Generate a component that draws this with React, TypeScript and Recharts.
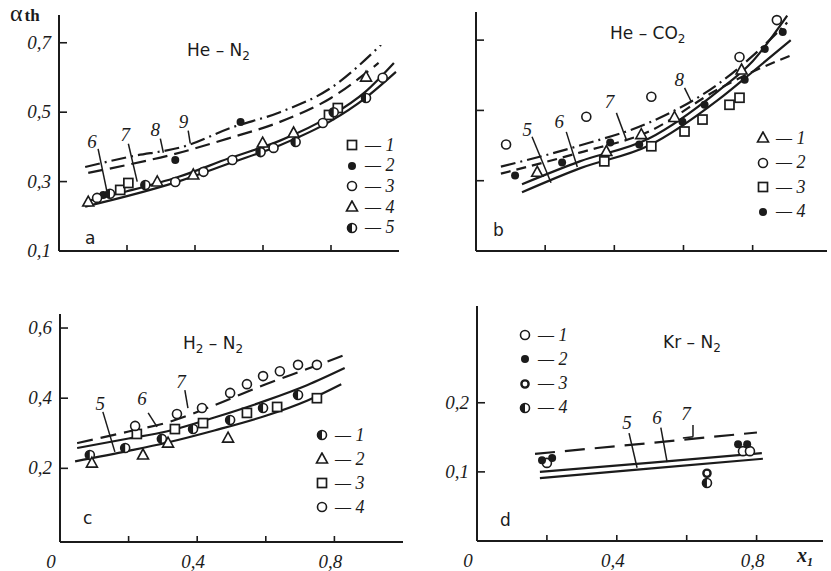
// @ts-nocheck
import React from "react"
import {
    ComposedChart,
    Line,
    Scatter,
    XAxis,
    YAxis,
    ReferenceLine,
    ReferenceDot
} from "recharts"

const INK = "#1b1b1b"
const SERIF = "'Liberation Serif', 'DejaVu Serif', serif"
const SANS = "'DejaVu Sans', 'Liberation Sans', sans-serif"

// shared x axis ticks (x1)
const xTicks = [0, 0.2, 0.4, 0.6, 0.8]
const xLabelled = [0, 0.4, 0.8]

// ---- a: He - N2
const aYTicks = [0.1, 0.3, 0.5, 0.7]
const aCurve6 = [[0.077, 0.228], [0.2, 0.258], [0.35, 0.3], [0.5, 0.352], [0.65, 0.405], [0.8, 0.475], [0.9, 0.54], [0.991, 0.616]]
const aCurve7 = [[0.08, 0.243], [0.2, 0.272], [0.35, 0.313], [0.5, 0.367], [0.65, 0.418], [0.8, 0.49], [0.9, 0.558], [0.985, 0.642]]
const aCurve8 = [[0.086, 0.325], [0.2, 0.348], [0.33, 0.377], [0.5, 0.425], [0.65, 0.472], [0.8, 0.541], [0.94, 0.642]]
const aCurve9 = [[0.077, 0.342], [0.2, 0.37], [0.38, 0.405], [0.5, 0.453], [0.65, 0.5], [0.8, 0.57], [0.947, 0.694]]
const aSquares = [[0.18, 0.276], [0.204, 0.296], [0.794, 0.492], [0.82, 0.512]]
const aFilled = [[0.13, 0.261], [0.342, 0.362], [0.534, 0.472]]
const aOpen = [[0.112, 0.253], [0.342, 0.299], [0.425, 0.328], [0.51, 0.362], [0.631, 0.397], [0.776, 0.469], [0.952, 0.599]]
const aTriangles = [[0.086, 0.241], [0.289, 0.299], [0.395, 0.319], [0.599, 0.411], [0.69, 0.44], [0.903, 0.601]]
const aHalf = [[0.15, 0.265], [0.254, 0.29], [0.593, 0.385], [0.696, 0.414], [0.808, 0.5], [0.903, 0.541]]
const aLeaders = [[[0.115, 0.394], [0.142, 0.267]], [[0.204, 0.409], [0.23, 0.3]], [[0.298, 0.424], [0.307, 0.383]], [[0.38, 0.447], [0.386, 0.41]]]
const aTags = [[0.097, 0.415, "6"], [0.195, 0.435, "7"], [0.283, 0.45, "8"], [0.366, 0.473, "9"]]

// ---- b: He - CO2
const bYTicks = [0.3, 0.5, 0.7]
const bCurve5 = [[0.133, 0.267], [0.3, 0.335], [0.5, 0.4], [0.7, 0.53], [0.8, 0.61], [0.91, 0.7]]
const bCurve6 = [[0.133, 0.29], [0.3, 0.355], [0.5, 0.42], [0.7, 0.555], [0.8, 0.64], [0.9, 0.77]]
const bCurve7 = [[0.072, 0.32], [0.3, 0.38], [0.5, 0.44], [0.7, 0.56], [0.8, 0.61], [0.907, 0.655]]
const bCurve8 = [[0.072, 0.34], [0.3, 0.4], [0.5, 0.465], [0.7, 0.575], [0.8, 0.655], [0.9, 0.75]]
const bTriangles = [[0.177, 0.324], [0.377, 0.383], [0.478, 0.431], [0.574, 0.48], [0.768, 0.615]]
const bOpen = [[0.087, 0.403], [0.319, 0.482], [0.507, 0.539], [0.762, 0.652], [0.87, 0.757]]
const bSquares = [[0.371, 0.355], [0.507, 0.398], [0.603, 0.44], [0.655, 0.474], [0.733, 0.516], [0.762, 0.536]]
const bFilled = [[0.113, 0.315], [0.249, 0.352], [0.388, 0.409], [0.472, 0.403], [0.597, 0.468], [0.661, 0.516], [0.777, 0.587], [0.835, 0.675], [0.887, 0.723]]
const bLeaders = [[[0.162, 0.425], [0.217, 0.294]], [[0.261, 0.439], [0.293, 0.339]], [[0.406, 0.493], [0.435, 0.416]], [[0.603, 0.564], [0.623, 0.524]]]
const bTags = [[0.148, 0.445, "5"], [0.241, 0.468, "6"], [0.386, 0.527, "7"], [0.588, 0.59, "8"]]

// ---- c: H2 - N2
const cYTicks = [0.2, 0.4, 0.6]
const cCurve5 = [[0.044, 0.22], [0.2, 0.25], [0.31, 0.273], [0.45, 0.308], [0.6, 0.35], [0.72, 0.393], [0.82, 0.44]]
const cCurve6 = [[0.05, 0.258], [0.2, 0.285], [0.31, 0.305], [0.45, 0.345], [0.6, 0.393], [0.72, 0.437], [0.83, 0.486]]
const cCurve7 = [[0.05, 0.272], [0.2, 0.305], [0.31, 0.33], [0.45, 0.38], [0.6, 0.44], [0.72, 0.483], [0.83, 0.523]]
const cHalf = [[0.087, 0.238], [0.19, 0.258], [0.297, 0.284], [0.388, 0.312], [0.496, 0.338], [0.592, 0.372], [0.694, 0.409]]
const cTriangles = [[0.093, 0.215], [0.242, 0.238], [0.315, 0.272], [0.49, 0.286]]
const cSquares = [[0.224, 0.298], [0.335, 0.312], [0.417, 0.329], [0.545, 0.358], [0.633, 0.375], [0.749, 0.4]]
const cOpen = [[0.219, 0.321], [0.341, 0.355], [0.414, 0.372], [0.496, 0.415], [0.545, 0.44], [0.592, 0.463], [0.641, 0.477], [0.694, 0.495], [0.749, 0.495]]
const cLeaders = [[[0.125, 0.361], [0.16, 0.247]], [[0.257, 0.358], [0.283, 0.318]], [[0.364, 0.423], [0.373, 0.372]]]
const cTags = [[0.117, 0.386, "5"], [0.239, 0.4, "6"], [0.353, 0.447, "7"]]

// ---- d: Kr - N2
const dYTicks = [0.1, 0.2]
const dCurve5 = [[0.18, 0.091], [0.5, 0.105], [0.818, 0.119]]
const dCurve6 = [[0.18, 0.1], [0.5, 0.1135], [0.815, 0.127]]
const dCurve7 = [[0.166, 0.126], [0.5, 0.142], [0.801, 0.157]]
const dOpen = [[0.2, 0.113], [0.761, 0.13], [0.781, 0.13]]
const dFilled = [[0.186, 0.117], [0.215, 0.12], [0.747, 0.14], [0.773, 0.14]]
const dRing = [[0.658, 0.098]]
const dHalf = [[0.658, 0.084]]
const dLeaders = [[[0.435, 0.156], [0.458, 0.106]], [[0.526, 0.164], [0.544, 0.114]], [[0.618, 0.168], [0.618, 0.151]], [[0.618, 0.151], [0.589, 0.149]]]
const dTags = [[0.429, 0.172, "5"], [0.515, 0.179, "6"], [0.598, 0.185, "7"]]

const toXY = (arr: number[][]) => arr.map(([x, y]) => ({ x, y }))
const fmt = (v: number) => (v === 0 ? "0" : v.toFixed(1).replace(".", ","))

const DASH = "15 7"
const DASH_DOT = "15 5 2 5"

// point symbols
const Marker = ({ cx, cy, kind }) => {
    if (cx == null || cy == null) return null
    const r = 4.5
    switch (kind) {
        case "square":
            return <rect x={cx - 4.5} y={cy - 4.5} width={9} height={9} fill="#fff" stroke={INK} strokeWidth={1.7} />
        case "filled":
            return <circle cx={cx} cy={cy} r={4} fill={INK} />
        case "triangle":
            return <polygon points={`${cx},${cy - 6} ${cx - 5.5},${cy + 4} ${cx + 5.5},${cy + 4}`} fill="#fff" stroke={INK} strokeWidth={1.6} />
        case "ring":
            return <circle cx={cx} cy={cy} r={3.6} fill="#fff" stroke={INK} strokeWidth={2.4} />
        case "half":
            return (
                <g>
                    <circle cx={cx} cy={cy} r={r} fill="#fff" stroke={INK} strokeWidth={1.6} />
                    <path d={`M${cx},${cy - r} A${r},${r} 0 0 0 ${cx},${cy + r} Z`} fill={INK} />
                </g>
            )
        default:
            return <circle cx={cx} cy={cy} r={r} fill="#fff" stroke={INK} strokeWidth={1.6} />
    }
}

const numStyle = { fontFamily: SERIF, fontStyle: "italic", fontSize: 19, fill: INK }

const XTick = ({ x, y, payload, labels }) => {
    const v = payload.value
    return (
        <g>
            {v > 0 && <line x1={x} y1={y} x2={x} y2={y - 6} stroke={INK} strokeWidth={1.6} />}
            {labels && xLabelled.includes(v) && (
                <text x={x + (v === 0 ? -9 : -4)} y={y + 26} textAnchor="middle" style={numStyle}>
                    {fmt(v)}
                </text>
            )}
        </g>
    )
}

const YTick = ({ x, y, payload, labels }) => (
    <g>
        <line x1={x} y1={y} x2={x + 8} y2={y} stroke={INK} strokeWidth={1.6} />
        {labels && (
            <text x={x - 8} y={y + 6} textAnchor="end" style={numStyle}>
                {fmt(payload.value)}
            </text>
        )}
    </g>
)

const Y_W = 45
const X_H = 28

const Panel = ({ box, plot, xDomain, yDomain, yTicks, xLabels, yLabels, curves, points, leaders, tags }) => {
    const margin = {
        top: plot.top - box.top,
        left: plot.left - box.left - Y_W,
        right: box.left + box.width - plot.right,
        bottom: box.top + box.height - plot.bottom - X_H
    }
    return (
        <div style={{ position: "absolute", left: box.left, top: box.top }}>
            <ComposedChart width={box.width} height={box.height} margin={margin}>
                <XAxis
                    type="number"
                    dataKey="x"
                    domain={xDomain}
                    ticks={xTicks}
                    interval={0}
                    allowDataOverflow
                    height={X_H}
                    tickSize={0}
                    tickMargin={0}
                    axisLine={{ stroke: INK, strokeWidth: 2 }}
                    tick={p => <XTick {...p} labels={xLabels} />}
                />
                <YAxis
                    type="number"
                    dataKey="y"
                    domain={yDomain}
                    ticks={yTicks}
                    interval={0}
                    allowDataOverflow
                    width={Y_W}
                    tickSize={0}
                    tickMargin={0}
                    axisLine={{ stroke: INK, strokeWidth: 2 }}
                    tick={p => <YTick {...p} labels={yLabels} />}
                />
                {curves.map((c, i) => (
                    <Line
                        key={"c" + i}
                        data={toXY(c.data)}
                        dataKey="y"
                        type={c.linear ? "linear" : "monotone"}
                        stroke={INK}
                        strokeWidth={2.2}
                        strokeDasharray={c.dash}
                        dot={false}
                        isAnimationActive={false}
                    />
                ))}
                {points.map((s, i) => (
                    <Scatter
                        key={"s" + i}
                        data={toXY(s.data)}
                        isAnimationActive={false}
                        shape={p => <Marker cx={p.cx} cy={p.cy} kind={s.kind} />}
                    />
                ))}
                {leaders.map(([a, b], i) => (
                    <ReferenceLine
                        key={"l" + i}
                        segment={[{ x: a[0], y: a[1] }, { x: b[0], y: b[1] }]}
                        stroke={INK}
                        strokeWidth={1.5}
                    />
                ))}
                {tags.map(([x, y, t], i) => (
                    <ReferenceDot
                        key={"t" + i}
                        x={x}
                        y={y}
                        r={0}
                        fill="none"
                        stroke="none"
                        label={{ value: t, position: "center", ...numStyle }}
                    />
                ))}
            </ComposedChart>
        </div>
    )
}

const Key = ({ left, top, gap, items }) => (
    <div style={{ position: "absolute", left, top }}>
        {items.map(([kind, label], i) => (
            <div
                key={i}
                style={{ position: "absolute", left: 0, top: i * gap, height: 20, display: "flex", alignItems: "center", whiteSpace: "nowrap" }}
            >
                <svg width={14} height={14}>
                    <Marker cx={7} cy={7} kind={kind} />
                </svg>
                <span style={{ marginLeft: 6, fontFamily: SERIF, fontStyle: "italic", fontSize: 18, color: INK }}>
                    — {label}
                </span>
            </div>
        ))}
    </div>
)

const textAt = (left, top, size = 17) => ({
    position: "absolute",
    left,
    top,
    fontFamily: SANS,
    fontSize: size,
    lineHeight: "20px",
    color: INK,
    whiteSpace: "nowrap"
})

const sub = { fontSize: 12, verticalAlign: -4 }

export default function App() {
    return (
        <div style={{ position: "absolute", left: 0, top: 0, width: 831, height: 571, background: "#fff", overflow: "hidden" }}>
            <Panel
                box={{ left: 0, top: 0, width: 415, height: 285 }}
                plot={{ left: 59, right: 399, top: 15, bottom: 251 }}
                xDomain={[0, 1]}
                yDomain={[0.1, 0.78]}
                yTicks={aYTicks}
                xLabels={false}
                yLabels
                curves={[{ data: aCurve6 }, { data: aCurve7 }, { data: aCurve8, dash: DASH }, { data: aCurve9, dash: DASH_DOT }]}
                points={[
                    { data: aSquares, kind: "square" },
                    { data: aFilled, kind: "filled" },
                    { data: aOpen, kind: "open" },
                    { data: aTriangles, kind: "triangle" },
                    { data: aHalf, kind: "half" }
                ]}
                leaders={aLeaders}
                tags={aTags}
            />
            <Panel
                box={{ left: 415, top: 0, width: 416, height: 285 }}
                plot={{ left: 476, right: 827, top: 12, bottom: 251 }}
                xDomain={[0, 1.015]}
                yDomain={[0.1, 0.78]}
                yTicks={bYTicks}
                xLabels={false}
                yLabels={false}
                curves={[{ data: bCurve5 }, { data: bCurve6 }, { data: bCurve7, dash: "10 6" }, { data: bCurve8, dash: DASH_DOT }]}
                points={[
                    { data: bTriangles, kind: "triangle" },
                    { data: bOpen, kind: "open" },
                    { data: bSquares, kind: "square" },
                    { data: bFilled, kind: "filled" }
                ]}
                leaders={bLeaders}
                tags={bTags}
            />
            <Panel
                box={{ left: 0, top: 285, width: 415, height: 286 }}
                plot={{ left: 60, right: 403, top: 314, bottom: 542 }}
                xDomain={[0, 1]}
                yDomain={[-0.01, 0.64]}
                yTicks={cYTicks}
                xLabels
                yLabels
                curves={[{ data: cCurve5 }, { data: cCurve6 }, { data: cCurve7, dash: "16 8" }]}
                points={[
                    { data: cHalf, kind: "half" },
                    { data: cTriangles, kind: "triangle" },
                    { data: cSquares, kind: "square" },
                    { data: cOpen, kind: "open" }
                ]}
                leaders={cLeaders}
                tags={cTags}
            />
            <Panel
                box={{ left: 415, top: 285, width: 416, height: 286 }}
                plot={{ left: 477, right: 823, top: 306, bottom: 541 }}
                xDomain={[0, 0.99]}
                yDomain={[0, 0.34]}
                yTicks={dYTicks}
                xLabels
                yLabels
                curves={[
                    { data: dCurve5, linear: true },
                    { data: dCurve6, linear: true },
                    { data: dCurve7, linear: true, dash: "20 10" }
                ]}
                points={[
                    { data: dOpen, kind: "open" },
                    { data: dFilled, kind: "filled" },
                    { data: dRing, kind: "ring" },
                    { data: dHalf, kind: "half" }
                ]}
                leaders={dLeaders}
                tags={dTags}
            />

            {/* titles and panel letters */}
            <div style={textAt(187, 40)}>He – N<span style={sub}>2</span></div>
            <div style={textAt(610, 23)}>He – CO<span style={sub}>2</span></div>
            <div style={textAt(183, 333)}>H<span style={sub}>2</span> – N<span style={sub}>2</span></div>
            <div style={textAt(663, 332)}>Kr – N<span style={sub}>2</span></div>
            <div style={textAt(85, 228)}>a</div>
            <div style={textAt(493, 220)}>b</div>
            <div style={textAt(83, 508)}>c</div>
            <div style={textAt(500, 510)}>d</div>

            {/* axis names */}
            <div style={{ position: "absolute", left: 10, top: 0, fontFamily: SERIF, color: INK, whiteSpace: "nowrap", lineHeight: "26px" }}>
                <span style={{ fontSize: 24 }}>α</span>
                <span style={{ fontSize: 17, fontWeight: "bold", marginLeft: 2 }}>th</span>
            </div>
            <div style={{ position: "absolute", left: 797, top: 544, fontFamily: SERIF, color: INK, fontStyle: "italic", fontWeight: "bold", whiteSpace: "nowrap" }}>
                <span style={{ fontSize: 20 }}>x</span>
                <span style={{ fontSize: 12, verticalAlign: -4 }}>1</span>
            </div>

            {/* keys */}
            <Key left={345} top={135} gap={20.7} items={[["square", "1"], ["filled", "2"], ["open", "3"], ["triangle", "4"], ["half", "5"]]} />
            <Key left={756} top={128} gap={24.6} items={[["triangle", "1"], ["open", "2"], ["square", "3"], ["filled", "4"]]} />
            <Key left={315} top={425} gap={24} items={[["half", "1"], ["triangle", "2"], ["square", "3"], ["open", "4"]]} />
            <Key left={518} top={325} gap={24.3} items={[["open", "1"], ["filled", "2"], ["ring", "3"], ["half", "4"]]} />
        </div>
    )
}
